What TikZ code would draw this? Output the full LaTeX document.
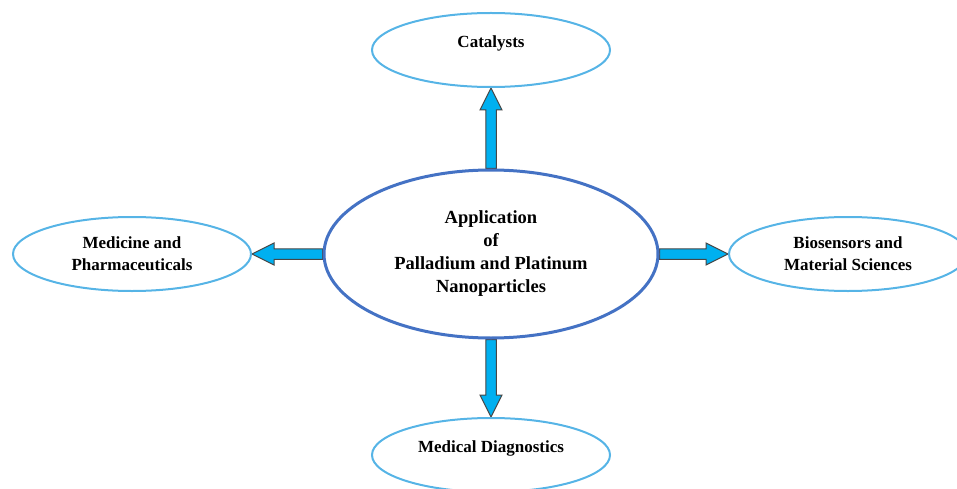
\documentclass[tikz,border=0pt]{standalone}
\usepackage{fontspec}
\setmainfont{Liberation Serif}
\usepackage{tikz}
\usetikzlibrary{calc,shapes.geometric,backgrounds}
\definecolor{hubblue}{RGB}{68,114,196}
\definecolor{leafblue}{RGB}{86,180,230}
\definecolor{arrowcyan}{RGB}{0,176,240}
\definecolor{arrowedge}{RGB}{70,70,70}

% block arrow between two anchors: shaft half width 5.25, head half width 11, head length 22
\newcommand{\blockarrow}[2]{%
  \coordinate (hb) at ($(#2)!22pt!(#1)$);
  \draw[blockarr] ($(#1)!5.25pt!90:(#2)$) -- ($(hb)!5.25pt!90:(#2)$) -- ($(hb)!11pt!90:(#2)$) -- (#2)
    -- ($(hb)!11pt!-90:(#2)$) -- ($(hb)!5.25pt!-90:(#2)$) -- ($(#1)!5.25pt!-90:(#2)$) -- cycle;}

\begin{document}
\begin{tikzpicture}[x=1pt, y=1pt,
    every node/.style={font=\bfseries, align=center},
    hub/.style={ellipse, draw=hubblue, line width=3pt, inner sep=0pt, minimum width=334pt, minimum height=168pt,
      font=\fontsize{18.5}{23}\selectfont\bfseries},
    leaf/.style={ellipse, draw=leafblue, line width=2pt, inner sep=0pt, minimum width=238pt, minimum height=74pt,
      font=\fontsize{17}{22}\selectfont\bfseries},
    oneline/.style={text depth=16pt},
    blockarr/.style={draw=arrowedge, fill=arrowcyan, line width=1pt, line join=miter}]
    \useasboundingbox (0,0) rectangle (957,488);

    \node[hub] (app) at (491,234) {Application\\of\\Palladium and Platinum\\Nanoparticles};
    \node[leaf, oneline] (cat) at (491,438) {Catalysts};
    \node[leaf] (med) at (132,234) {Medicine and\\Pharmaceuticals};
    \node[leaf] (bio) at (848,234) {Biosensors and\\Material Sciences};
    \node[leaf, oneline] (diag) at (491,33) {Medical Diagnostics};

    \begin{scope}[on background layer]
        \blockarrow{app.north}{cat.south}
        \blockarrow{app.west}{med.east}
        \blockarrow{app.east}{bio.west}
        \blockarrow{app.south}{diag.north}
    \end{scope}
\end{tikzpicture}
\end{document}
